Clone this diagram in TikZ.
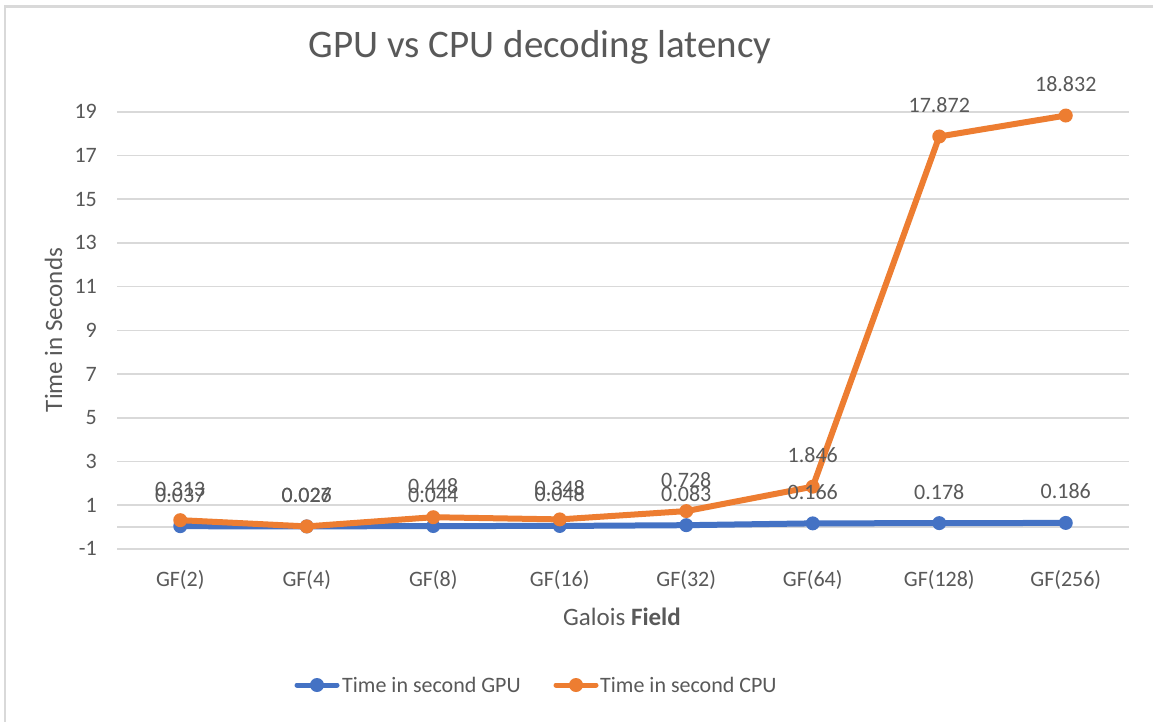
\documentclass[tikz,border=0pt]{standalone}
\usepackage{fontspec}
\setmainfont{Carlito}
\usetikzlibrary{calc}
\definecolor{txt}{HTML}{595959}
\definecolor{gridc}{HTML}{D9D9D9}
\definecolor{gpu}{HTML}{4472C4}
\definecolor{cpu}{HTML}{ED7D31}
\begin{document}
\begin{tikzpicture}[x=1pt,y=-1pt,
  font=\fontsize{22}{26}\selectfont, text=txt,
  gridline/.style={draw=gridc, line width=1.5pt},
  series/.style={line width=6pt, line join=round, line cap=round},
  dot/.style={circle, inner sep=0pt, minimum size=14pt},
  lab/.style={anchor=base, inner sep=0pt},
  ticklab/.style={anchor=base east, inner sep=0pt},
  axtitle/.style={anchor=base, inner sep=0pt, font=\fontsize{25}{29}\selectfont},
]
\useasboundingbox (0,0) rectangle (1153,722);
\fill[white] (0,0) rectangle (1153,722);
% chart frame (left and top edges visible)
\draw[draw=gridc, line width=2.5pt] (5,722) -- (5,6.5) -- (1153,6.5);
% title
\node[anchor=base, inner sep=0pt, font=\fontsize{39}{44}\selectfont] (title) at (540,58) {GPU vs CPU decoding latency};
% grid
\foreach \v in {-1,0,1,3,5,7,9,11,13,15,17,19}
  \draw[gridline] (117,{527-21.85*\v}) -- (1129,{527-21.85*\v});
% tick labels
\foreach \v [count=\k] in {-1,1,3,5,7,9,11,13,15,17,19}
  \node[ticklab] (tick\k) at (97,{527-21.85*\v+7}) {\v};
% category labels
\foreach \n [count=\i] in {2,4,8,16,32,64,128,256}
  \node[lab] (cat\i) at ({180.25+126.5*(\i-1)},586) {GF(\n)};
% axis titles
\node[axtitle] (xtitle) at (622,625) {Galois \textbf{Field}};
\node[axtitle, rotate=90] (ytitle) at (62,330) {Time in Seconds};
% data coordinates
\foreach \g/\c [count=\i] in {0.037/0.313,0.026/0.027,0.044/0.448,0.048/0.348,0.083/0.728,0.166/1.846,0.178/17.872,0.186/18.832}{
  \coordinate (g\i) at ({180.25+126.5*(\i-1)},{527-21.85*\g});
  \coordinate (c\i) at ({180.25+126.5*(\i-1)},{527-21.85*\c});
}
% GPU series
\draw[series, gpu] (g1) -- (g2) -- (g3) -- (g4) -- (g5) -- (g6) -- (g7) -- (g8);
\foreach \i in {1,...,8} \node[dot, fill=gpu] (gd\i) at (g\i) {};
% CPU series
\draw[series, cpu] (c1) -- (c2) -- (c3) -- (c4) -- (c5) -- (c6) -- (c7) -- (c8);
\foreach \i in {1,...,8} \node[dot, fill=cpu] (cd\i) at (c\i) {};
% data labels
\foreach \g/\c [count=\i] in {0.037/0.313,0.026/0.027,0.044/0.448,0.048/0.348,0.083/0.728,0.166/1.846,0.178/17.872,0.186/18.832}{
  \node[lab] (gl\i) at ({180.25+126.5*(\i-1)},{527-21.85*\g-24}) {\g};
  \node[lab] (cl\i) at ({180.25+126.5*(\i-1)},{527-21.85*\c-24}) {\c};
}
% legend
\coordinate (lga) at (297,685);
\coordinate (lgb) at (337,685);
\coordinate (lca) at (556,685);
\coordinate (lcb) at (596,685);
\draw[series, gpu, line width=5pt] (lga) -- (lgb);
\node[dot, fill=gpu] (lgd) at ($(lga)!0.5!(lgb)$) {};
\node[anchor=base west, inner sep=0pt] (lgt) at (342,692) {Time in second GPU};
\draw[series, cpu, line width=5pt] (lca) -- (lcb);
\node[dot, fill=cpu] (lcd) at ($(lca)!0.5!(lcb)$) {};
\node[anchor=base west, inner sep=0pt] (lct) at (600,692) {Time in second CPU};
\end{tikzpicture}
\end{document}
